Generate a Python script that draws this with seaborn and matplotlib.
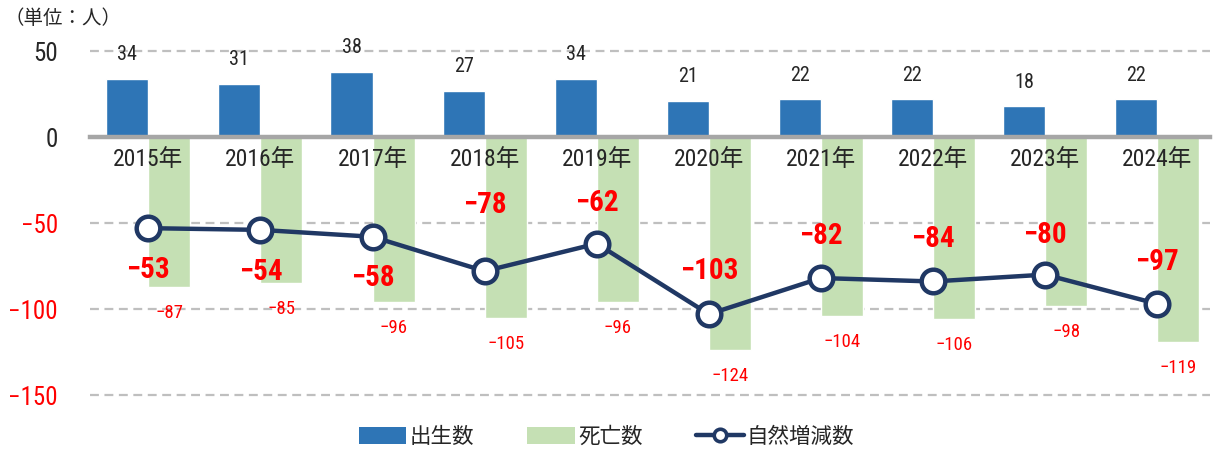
import numpy as np
import pandas as pd
import matplotlib
matplotlib.use("Agg")
import matplotlib.pyplot as plt
from matplotlib.patches import Patch
from matplotlib.lines import Line2D
import seaborn as sns

# ---- data -------------------------------------------------------------
years = ["2015年", "2016年", "2017年", "2018年", "2019年",
         "2020年", "2021年", "2022年", "2023年", "2024年"]
births = [34, 31, 38, 27, 34, 21, 22, 22, 18, 22]
deaths = [-87, -85, -96, -105, -96, -124, -104, -106, -98, -119]
natural = [-53, -54, -58, -78, -62, -103, -82, -84, -80, -97]
y_ticks = [50, 0, -50, -100, -150]
series_names = ["出生数", "死亡数", "自然増減数"]

# ---- style ------------------------------------------------------------
BLUE = "#2E75B6"
GREEN = "#C5E0B4"
NAVY = "#203864"
RED = "#FF0000"
DARK = "#262626"
GRID = "#BFBFBF"
AXIS = "#A6A6A6"

sns.set_theme(style="white")
plt.rcParams["font.family"] = ["Noto Sans CJK JP", "DejaVu Sans"]
plt.rcParams["axes.unicode_minus"] = True
plt.rcParams["axes.axisbelow"] = False
NUM = ["Roboto Condensed", "Noto Sans CJK JP", "DejaVu Sans"]

# vertical offsets (pixels) of the natural-change labels relative to markers
PX = 72 / 100
label_offsets = [-42, -42, -41, 66, 41, 43, 42, 42, 40, 42]


def minus(v):
    return f"{v}" if v >= 0 else f"\u2212{abs(v)}"


fig = plt.figure(figsize=(12.13, 4.53), dpi=100)
ax = fig.add_axes([90 / 1213, 1 - 403.6 / 453, 1120 / 1213, (403.6 - 33.8) / 453])

df = pd.DataFrame({
    "year": years * 2,
    "value": births + deaths,
    "kind": [series_names[0]] * len(years) + [series_names[1]] * len(years),
})

sns.barplot(data=df, x="year", y="value", hue="kind", order=years,
            hue_order=series_names[:2], palette=[BLUE, GREEN],
            width=0.75, dodge=True, saturation=1, legend=False,
            errorbar=None, ax=ax, zorder=2)

x = np.arange(len(years))
sns.lineplot(x=x, y=natural, ax=ax, color=NAVY, linewidth=3.2,
             marker="o", markersize=17, markerfacecolor="white",
             markeredgecolor=NAVY, markeredgewidth=3.2, zorder=5)

# ---- labels -----------------------------------------------------------
for bar, v in zip(ax.containers[0], births):
    cx = bar.get_x() + bar.get_width() / 2
    ax.annotate(minus(v), (cx, v), xytext=(0, 24 * PX), textcoords="offset points",
                ha="center", va="center", fontsize=14.5, color=DARK, family=NUM)

for bar, v in zip(ax.containers[1], deaths):
    cx = bar.get_x() + bar.get_width() / 2
    ax.annotate(minus(v), (cx, v), xytext=(0, -26 * PX), textcoords="offset points",
                ha="center", va="center", fontsize=13.5, color=RED, family=NUM)

for xi, v, off in zip(x, natural, label_offsets):
    ax.annotate(minus(v), (xi, v), xytext=(0, off * PX), textcoords="offset points",
                ha="center", va="center", fontsize=21, fontweight="bold", color=RED,
                family=NUM, zorder=6)

# ---- axes -------------------------------------------------------------
for side in ["top", "right", "left"]:
    ax.spines[side].set_visible(False)
ax.spines["bottom"].set_position(("data", 0))
ax.spines["bottom"].set_color(AXIS)
ax.spines["bottom"].set_linewidth(3.2)
ax.spines["bottom"].set_zorder(4)

ax.set_ylim(-155, 60)
ax.set_xlim(-0.52, 9.47)
ax.set_xticks(x)
ax.set_xticklabels(years)
ax.set_yticks(y_ticks)
ax.set_yticklabels([minus(t) for t in y_ticks])
ax.tick_params(axis="y", length=0, pad=23)
ax.tick_params(axis="x", length=0, pad=8)
for lbl, t in zip(ax.get_yticklabels(), y_ticks):
    lbl.set_color(RED if t < 0 else DARK)
    lbl.set_family(NUM)
    lbl.set_fontsize(18)
for lbl in ax.get_xticklabels():
    lbl.set_family(NUM)
    lbl.set_fontsize(17)
    lbl.set_color(DARK)
ax.set_xlabel("")
ax.set_ylabel("")

for t in y_ticks:
    if t != 0:
        ax.axhline(t, color=GRID, linewidth=1.6, linestyle=(0, (4, 2.5)), zorder=0.5)

fig.text(5 / 1213, 1 - 18 / 453, "（単位：人）", fontsize=14, color=DARK,
         ha="left", va="center")

handles = [
    Patch(facecolor=BLUE, edgecolor="none"),
    Patch(facecolor=GREEN, edgecolor="none"),
    Line2D([0], [0], color=NAVY, linewidth=3.2, marker="o", markersize=9,
           markerfacecolor="white", markeredgecolor=NAVY, markeredgewidth=2.6),
]
fig.legend(handles, series_names, loc="center", bbox_to_anchor=(0.5, 1 - 437 / 453),
           ncol=3, frameon=False, fontsize=15.5, handlelength=2.2, handleheight=0.8,
           columnspacing=2.5, handletextpad=0.15, labelcolor=DARK)

fig.savefig("out.png", dpi=100)
